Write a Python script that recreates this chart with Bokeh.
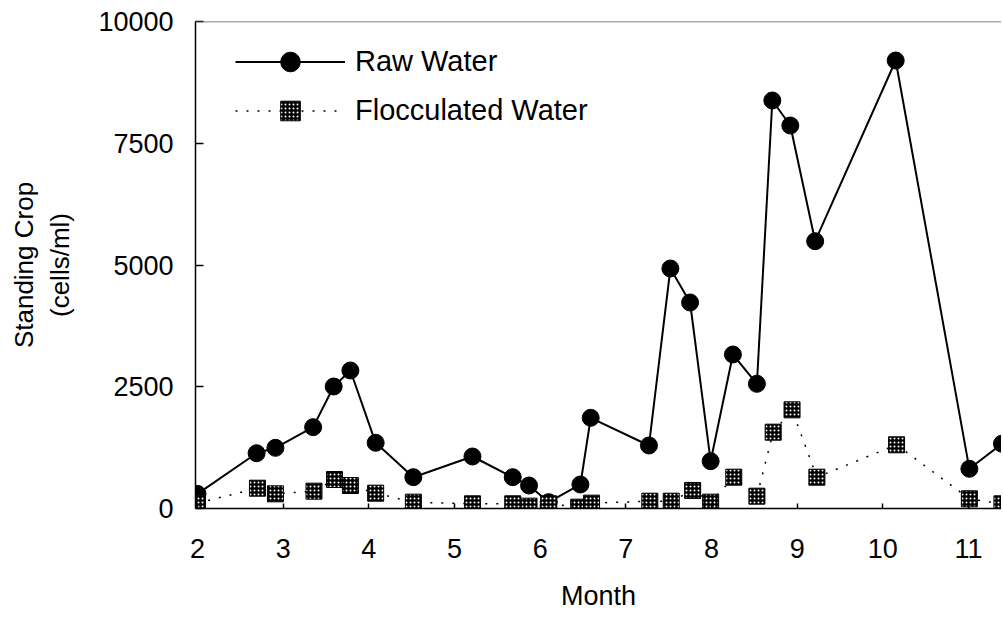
from bokeh.plotting import figure
from bokeh.models import Span, Legend, LegendItem, FixedTicker
from bokeh.embed import file_html
from bokeh.resources import INLINE

raw_month = [2.0, 2.69, 2.91, 3.35, 3.59, 3.785, 4.08, 4.52, 5.21, 5.68, 5.87, 6.10, 6.47, 6.59,
             7.27, 7.52, 7.75, 7.99, 8.25, 8.53, 8.71, 8.92, 9.21, 10.15, 11.01, 11.39]
raw_cells = [300, 1135, 1246, 1670, 2505, 2834, 1349, 643, 1068, 643, 472, 130, 493, 1862,
             1294, 4928, 4230, 971, 3162, 2560, 8378, 7864, 5489, 9199, 815, 1330]

floc_month = [2.0, 2.70, 2.91, 3.36, 3.60, 3.785, 4.08, 4.52, 5.21, 5.68, 5.87, 6.10, 6.45, 6.60,
              7.28, 7.53, 7.78, 7.99, 8.26, 8.53, 8.72, 8.94, 9.23, 10.16, 11.01, 11.39]
floc_cells = [110, 417, 301, 356, 595, 472, 315, 130, 96, 96, 48, 96, 27, 110,
              150, 150, 370, 130, 643, 253, 1567, 2026, 643, 1308, 199, 96]

x_ticks = [2, 3, 4, 5, 6, 7, 8, 9, 10, 11]
y_ticks = [0, 2500, 5000, 7500, 10000]

x_title = "Month"
y_title = "Standing Crop\n(cells/ml)"

FONT = "Liberation Sans"

p = figure(width=1001, height=621, output_backend="svg", toolbar_location=None,
           x_range=(1.977, 11.385), y_range=(0, 10000),
           min_border_left=195, min_border_right=0, min_border_top=21, min_border_bottom=113)
p.outline_line_color = None
p.grid.visible = False
p.background_fill_color = "white"
p.border_fill_color = "white"

p.xaxis.ticker = FixedTicker(ticks=x_ticks)
p.yaxis.ticker = FixedTicker(ticks=y_ticks)
for ax in (p.xaxis[0], p.yaxis[0]):
    ax.minor_tick_line_color = None
    ax.major_tick_out = 0
    ax.axis_line_color = "black"
    ax.axis_line_width = 1.5
    ax.major_tick_line_color = "black"
    ax.major_tick_line_width = 1.5
    ax.major_label_text_font = FONT
    ax.major_label_text_font_size = "27px"
    ax.major_label_text_color = "black"
    ax.axis_label_text_font = FONT
    ax.axis_label_text_font_style = "normal"
    ax.axis_label_text_color = "black"
p.xaxis.major_tick_in = 5
p.yaxis.major_tick_in = 8
p.xaxis.major_label_standoff = 30
p.yaxis.major_label_standoff = 22
p.xaxis.axis_label = x_title
p.xaxis.axis_label_text_font_size = "27px"
p.xaxis.axis_label_standoff = 20
p.yaxis.axis_label = y_title
p.yaxis.axis_label_text_font_size = "26px"
p.yaxis.axis_label_standoff = 20

p.add_layout(Span(location=10000, dimension="width", line_color="#555555", line_width=1.5))

r1 = p.line(raw_month, raw_cells, line_color="black", line_width=2)
r2 = p.scatter(raw_month, raw_cells, marker="circle", size=17, fill_color="black", line_color="black")
r3 = p.line(floc_month, floc_cells, line_color="black", line_width=1.5, line_dash="2 9")
r4 = p.scatter(floc_month, floc_cells, marker="square", size=16, fill_color="black", line_color="black",
               hatch_pattern="dot", hatch_color="white", hatch_scale=4, hatch_weight=1.5)

legend = Legend(items=[LegendItem(label="Raw Water", renderers=[r1, r2]),
                       LegendItem(label="Flocculated Water", renderers=[r3, r4])],
                location=(40, 373))
legend.border_line_color = None
legend.background_fill_alpha = 0
legend.glyph_width = 110
legend.glyph_height = 49
legend.label_height = 49
legend.spacing = 0
legend.padding = 0
legend.margin = 0
legend.label_standoff = 10
legend.label_text_font = FONT
legend.label_text_font_size = "29px"
legend.label_text_color = "black"
p.add_layout(legend)

open("out.html", "w").write(file_html(p, INLINE))
